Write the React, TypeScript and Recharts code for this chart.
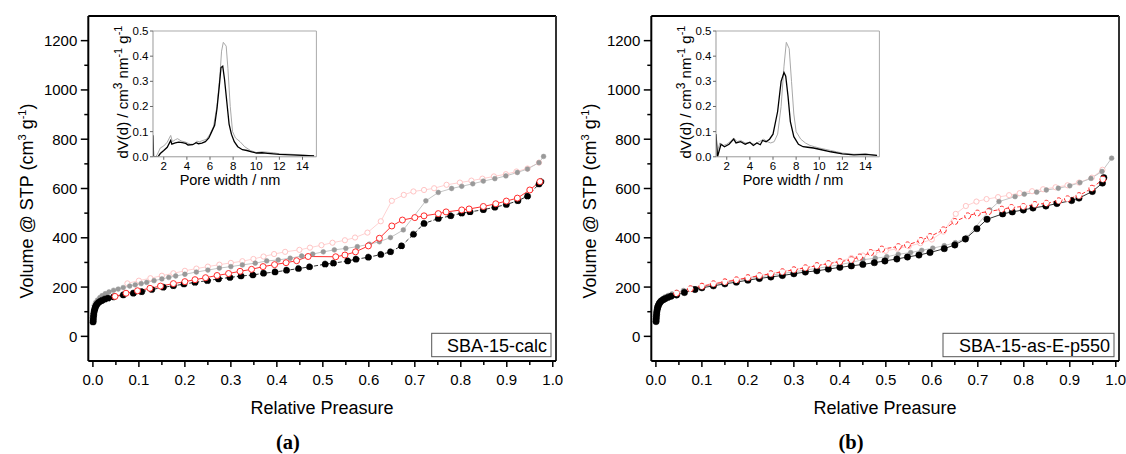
import React from 'react';
import { LineChart, Line, XAxis, YAxis, ReferenceLine } from 'recharts';

type Pt = [number, number];

// ---- main isotherm axes ----
const xTicks = [0, 0.05, 0.1, 0.15, 0.2, 0.25, 0.3, 0.35, 0.4, 0.45, 0.5, 0.55, 0.6, 0.65, 0.7, 0.75, 0.8, 0.85, 0.9, 0.95, 1.0];
const yTicks = [0, 100, 200, 300, 400, 500, 600, 700, 800, 900, 1000, 1100, 1200];
const xDomain: [number, number] = [-0.01, 1.007];
const yDomain: [number, number] = [-100, 1300];

// ---- inset axes ----
const insetXTicks = [2, 4, 6, 8, 10, 12, 14];
const insetYTicks = [0, 0.1, 0.2, 0.3, 0.4, 0.5];
const insetXDomain: [number, number] = [1.07, 15.2];
const insetYDomain: [number, number] = [0, 0.5];

const panelLabels = ['(a)', '(b)'];
const sampleNames = ['SBA-15-calc', 'SBA-15-as-E-p550'];

// ---- panel (a): SBA-15-calc ----
const calcAds: Pt[] = [
  [0.0003, 58], [0.0006, 66], [0.001, 76], [0.0015, 86], [0.002, 95], [0.003, 104], [0.004, 111], [0.005, 117],
  [0.007, 125], [0.009, 131], [0.012, 137], [0.016, 142], [0.02, 146], [0.026, 151], [0.033, 155], [0.045, 160],
  [0.066, 168], [0.088, 175], [0.106, 181], [0.128, 190], [0.153, 199], [0.175, 205], [0.198, 212], [0.222, 219],
  [0.249, 226], [0.273, 233], [0.298, 239], [0.322, 245], [0.348, 249], [0.371, 256], [0.396, 261], [0.421, 268],
  [0.447, 275], [0.471, 282], [0.505, 293], [0.523, 297], [0.554, 306], [0.572, 313], [0.599, 321], [0.626, 332],
  [0.647, 343], [0.671, 367], [0.697, 414], [0.72, 458], [0.751, 478], [0.778, 489], [0.802, 500], [0.82, 505],
  [0.849, 514], [0.874, 524], [0.899, 535], [0.924, 550], [0.945, 569], [0.97, 618], [0.974, 628],
];
const calcDes: Pt[] = [
  [0.048, 162], [0.072, 175], [0.097, 185], [0.124, 195], [0.147, 204], [0.175, 214], [0.2, 222], [0.222, 230],
  [0.245, 238], [0.27, 247], [0.295, 255], [0.32, 264], [0.345, 272], [0.37, 283], [0.395, 291], [0.42, 299],
  [0.443, 307], [0.468, 324], [0.528, 323], [0.548, 330], [0.571, 343], [0.599, 367], [0.623, 398], [0.65, 448],
  [0.673, 472], [0.7, 482], [0.72, 489], [0.751, 498], [0.768, 505], [0.802, 513], [0.818, 517], [0.849, 527],
  [0.876, 538], [0.899, 549], [0.923, 561], [0.95, 594], [0.972, 628],
];
const calcRefAds: Pt[] = [
  [0.003, 125], [0.006, 137], [0.01, 147], [0.015, 157], [0.02, 165], [0.027, 173], [0.035, 180], [0.045, 187],
  [0.055, 192], [0.066, 198], [0.08, 204], [0.092, 209], [0.105, 214], [0.117, 219], [0.133, 226], [0.15, 233],
  [0.165, 239], [0.18, 245], [0.2, 252], [0.225, 261], [0.25, 269], [0.275, 277], [0.3, 283], [0.325, 290],
  [0.353, 297], [0.378, 306], [0.403, 310], [0.429, 317], [0.454, 326], [0.478, 334], [0.501, 343], [0.525, 351],
  [0.55, 357], [0.575, 364], [0.601, 374], [0.623, 384], [0.647, 401], [0.675, 432], [0.724, 550], [0.751, 584],
  [0.78, 600], [0.802, 609], [0.826, 619], [0.849, 630], [0.874, 640], [0.898, 651], [0.923, 665], [0.945, 679],
  [0.97, 705], [0.98, 730],
];
const calcRefDes: Pt[] = [
  [0.075, 215], [0.1, 226], [0.125, 236], [0.15, 246], [0.175, 256], [0.2, 266], [0.225, 275], [0.25, 283],
  [0.275, 291], [0.3, 298], [0.325, 305], [0.349, 314], [0.371, 324], [0.394, 334], [0.418, 343], [0.449, 351],
  [0.472, 360], [0.497, 370], [0.521, 380], [0.548, 390], [0.57, 401], [0.597, 421], [0.626, 467], [0.65, 550],
  [0.676, 574], [0.697, 588], [0.72, 594], [0.742, 601], [0.769, 615], [0.798, 624], [0.823, 632], [0.847, 640],
  [0.872, 649], [0.898, 658], [0.921, 669], [0.945, 681], [0.97, 705],
];
const calcPsd: Pt[] = [
  [1.07, 0.086], [1.12, 0], [1.5, 0], [1.7, 0.013], [2.0, 0.025], [2.3, 0.038], [2.6, 0.065], [2.7, 0.05],
  [3.0, 0.055], [3.3, 0.058], [3.6, 0.056], [3.9, 0.053], [4.1, 0.047], [4.5, 0.048], [4.8, 0.056], [5.0, 0.052],
  [5.3, 0.054], [5.6, 0.06], [5.9, 0.075], [6.1, 0.095], [6.4, 0.125], [6.6, 0.19], [6.8, 0.28], [6.95, 0.355],
  [7.1, 0.36], [7.25, 0.31], [7.45, 0.22], [7.65, 0.13], [7.85, 0.09], [8.1, 0.06], [8.4, 0.04], [8.8, 0.028],
  [9.2, 0.025], [9.6, 0.02], [10.0, 0.015], [10.5, 0.016], [11.0, 0.014], [12.0, 0.01], [13.0, 0.008], [14.0, 0.006],
  [15.0, 0.004],
];
const calcRefPsd: Pt[] = [
  [1.07, 0], [1.3, 0], [1.45, 0.01], [1.7, 0.035], [2.0, 0.043], [2.3, 0.058], [2.6, 0.085], [2.75, 0.06],
  [3.0, 0.068], [3.2, 0.072], [3.5, 0.063], [3.9, 0.058], [4.3, 0.05], [4.6, 0.05], [4.85, 0.062], [5.1, 0.06],
  [5.4, 0.065], [5.7, 0.07], [6.0, 0.09], [6.3, 0.12], [6.6, 0.2], [6.85, 0.32], [7.0, 0.42], [7.15, 0.455],
  [7.4, 0.44], [7.55, 0.35], [7.75, 0.2], [7.95, 0.1], [8.2, 0.075], [8.6, 0.06], [9.0, 0.04], [9.5, 0.025],
  [10.0, 0.017], [10.5, 0.02], [11.0, 0.018], [11.5, 0.016], [12.0, 0.012], [13.0, 0.01], [14.0, 0.007], [15.0, 0.004],
];

// ---- panel (b): SBA-15-as-E-p550 ----
const p550Ads: Pt[] = [
  [0.0003, 60], [0.0006, 70], [0.001, 80], [0.0015, 90], [0.002, 100], [0.003, 110], [0.004, 118], [0.005, 124],
  [0.007, 132], [0.009, 138], [0.012, 144], [0.016, 149], [0.02, 153], [0.026, 158], [0.033, 163], [0.045, 168],
  [0.062, 178], [0.085, 190], [0.1, 197], [0.125, 205], [0.15, 213], [0.175, 220], [0.2, 228], [0.225, 235],
  [0.25, 241], [0.275, 247], [0.3, 254], [0.325, 261], [0.35, 266], [0.375, 273], [0.4, 280], [0.425, 286],
  [0.45, 292], [0.475, 299], [0.498, 306], [0.524, 314], [0.547, 322], [0.572, 330], [0.596, 340], [0.627, 356],
  [0.65, 371], [0.673, 395], [0.698, 437], [0.72, 475], [0.754, 497], [0.775, 505], [0.799, 513], [0.82, 521],
  [0.848, 529], [0.872, 539], [0.904, 551], [0.92, 561], [0.949, 588], [0.971, 622], [0.974, 644],
];
const p550Des: Pt[] = [
  [0.045, 175], [0.075, 193], [0.1, 203], [0.125, 213], [0.15, 221], [0.175, 229], [0.2, 238], [0.225, 246],
  [0.25, 254], [0.275, 262], [0.3, 270], [0.325, 278], [0.35, 287], [0.375, 295], [0.4, 303], [0.425, 311],
  [0.443, 322], [0.467, 340], [0.491, 354], [0.527, 364], [0.547, 371], [0.576, 389], [0.596, 405], [0.625, 432],
  [0.65, 466], [0.678, 489], [0.699, 500], [0.723, 506], [0.752, 516], [0.773, 523], [0.799, 527], [0.824, 535],
  [0.849, 540], [0.876, 550], [0.895, 558], [0.92, 571], [0.948, 601], [0.972, 638],
];
const p550RefAds: Pt[] = [
  [0.003, 120], [0.006, 135], [0.01, 145], [0.015, 153], [0.02, 160], [0.027, 166], [0.035, 172], [0.045, 178],
  [0.06, 186], [0.08, 194], [0.1, 201], [0.125, 210], [0.15, 218], [0.175, 226], [0.2, 234], [0.225, 241],
  [0.25, 248], [0.275, 255], [0.3, 262], [0.325, 269], [0.35, 276], [0.375, 283], [0.4, 291], [0.425, 300],
  [0.45, 311], [0.477, 317], [0.502, 323], [0.527, 333], [0.554, 340], [0.578, 349], [0.602, 358], [0.627, 368],
  [0.651, 380], [0.676, 401], [0.726, 513], [0.746, 547], [0.781, 567], [0.801, 577], [0.828, 585], [0.849, 594],
  [0.875, 601], [0.9, 611], [0.922, 624], [0.946, 641], [0.97, 669], [0.991, 723],
];
const p550RefDes: Pt[] = [
  [0.075, 195], [0.1, 206], [0.125, 215], [0.15, 223], [0.175, 231], [0.2, 239], [0.225, 247], [0.25, 255],
  [0.275, 263], [0.3, 271], [0.325, 279], [0.35, 287], [0.375, 296], [0.4, 306], [0.425, 318], [0.45, 328],
  [0.475, 338], [0.5, 347], [0.525, 356], [0.55, 366], [0.575, 378], [0.6, 393], [0.625, 425], [0.652, 497],
  [0.674, 529], [0.697, 547], [0.719, 557], [0.744, 565], [0.768, 573], [0.791, 581], [0.818, 589], [0.842, 597],
  [0.869, 605], [0.895, 613], [0.92, 624], [0.948, 644], [0.971, 676],
];
const p550Psd: Pt[] = [
  [1.07, 0.09], [1.2, 0], [1.5, 0.05], [1.8, 0.04], [2.2, 0.05], [2.6, 0.07], [2.8, 0.055], [3.2, 0.06],
  [3.6, 0.05], [4.0, 0.058], [4.3, 0.045], [4.6, 0.055], [4.9, 0.048], [5.1, 0.065], [5.4, 0.06], [5.7, 0.07],
  [6.0, 0.09], [6.4, 0.18], [6.7, 0.3], [6.95, 0.335], [7.1, 0.32], [7.3, 0.24], [7.5, 0.14], [7.8, 0.08],
  [8.2, 0.05], [8.6, 0.04], [9.0, 0.038], [9.5, 0.035], [10.0, 0.03], [11.0, 0.02], [12.0, 0.012], [13.0, 0.008],
  [14.0, 0.01], [15.0, 0.006],
];
const p550RefPsd: Pt[] = [
  [1.07, 0], [1.4, 0.055], [1.7, 0.045], [2.0, 0.05], [2.3, 0.06], [2.6, 0.075], [2.9, 0.06], [3.2, 0.065],
  [3.6, 0.055], [4.0, 0.055], [4.4, 0.05], [4.8, 0.06], [5.2, 0.07], [5.5, 0.06], [5.8, 0.055], [6.1, 0.06],
  [6.4, 0.09], [6.7, 0.2], [6.95, 0.36], [7.15, 0.455], [7.4, 0.43], [7.6, 0.3], [7.8, 0.17], [8.0, 0.1],
  [8.4, 0.07], [8.8, 0.055], [9.2, 0.045], [9.6, 0.04], [10.0, 0.035], [10.5, 0.03], [11.0, 0.025], [11.5, 0.02],
  [12.0, 0.015], [13.0, 0.01], [14.0, 0.012], [15.0, 0.005],
];

const SANS = "'Liberation Sans', Arial, sans-serif";
const SERIF = "'Liberation Serif', 'Times New Roman', serif";

const toRows = (pts: Pt[]) => pts.map(([x, y]) => ({ x, y }));

const MainXTick = (props: any) => {
  const { x, y, payload } = props;
  const v = payload.value as number;
  const major = Math.round(v * 100) % 10 === 0;
  return (
    <g>
      <line x1={x} x2={x} y1={y} y2={y + (major ? 6 : 4)} stroke="#000" strokeWidth={1.5} />
      {major && (
        <text x={x} y={y + 24} textAnchor="middle" fontSize={15} fontFamily={SANS} fill="#000">
          {v.toFixed(1)}
        </text>
      )}
    </g>
  );
};

const MainYTick = (props: any) => {
  const { x, y, payload } = props;
  const v = payload.value as number;
  const major = v % 200 === 0;
  return (
    <g>
      <line x1={x} x2={x - (major ? 7.5 : 4)} y1={y} y2={y} stroke="#000" strokeWidth={1.5} />
      {major && (
        <text x={x - 11} y={y + 5.5} textAnchor="end" fontSize={15} fontFamily={SANS} fill="#000">
          {v}
        </text>
      )}
    </g>
  );
};

const InsetXTick = (props: any) => {
  const { x, y, payload } = props;
  return (
    <g>
      <line x1={x} x2={x} y1={y} y2={y + 3} stroke="#666" strokeWidth={1} />
      <text x={x} y={y + 13.5} textAnchor="middle" fontSize={11.5} fontFamily={SANS} fill="#000">
        {payload.value}
      </text>
    </g>
  );
};

const InsetYTick = (props: any) => {
  const { x, y, payload } = props;
  return (
    <g>
      <line x1={x} x2={x - 3} y1={y} y2={y} stroke="#666" strokeWidth={1} />
      <text x={x - 4.5} y={y + 4} textAnchor="end" fontSize={11.5} fontFamily={SANS} fill="#000">
        {(payload.value as number).toFixed(1)}
      </text>
    </g>
  );
};

type SeriesSet = { ads: Pt[]; des: Pt[]; refAds: Pt[]; refDes: Pt[]; psd: Pt[]; refPsd: Pt[] };

function Panel({ idx, set, boxLeft, blackDash, redDash }: { idx: number; set: SeriesSet; boxLeft: number; blackDash?: string; redDash?: string }) {
  return (
    <div style={{ position: 'absolute', left: idx * 563, top: 0, width: 563, height: 454 }}>
      <div style={{ position: 'absolute', left: 0, top: 0 }}>
        <LineChart width={563} height={454} margin={{ top: 16, right: 7, left: 28.3, bottom: 63 }}>
          <XAxis
            type="number"
            dataKey="x"
            domain={xDomain}
            ticks={xTicks}
            allowDataOverflow
            height={30}
            tickSize={0}
            tickMargin={0}
            tickLine={false}
            interval={0}
            axisLine={{ stroke: '#000', strokeWidth: 2 }}
            tick={(p: any) => <MainXTick {...p} />}
          />
          <YAxis
            type="number"
            domain={yDomain}
            ticks={yTicks}
            allowDataOverflow
            width={60}
            tickSize={0}
            tickMargin={0}
            tickLine={false}
            interval={0}
            axisLine={{ stroke: '#000', strokeWidth: 2 }}
            tick={(p: any) => <MainYTick {...p} />}
          />
          <ReferenceLine y={yDomain[1]} stroke="#000" strokeWidth={2} />
          <ReferenceLine x={xDomain[1]} stroke="#333" strokeWidth={2} />
          <Line
            data={toRows(set.refDes)}
            dataKey="y"
            type="linear"
            stroke="#ffd2d2"
            strokeWidth={1}
            dot={{ r: 2.6, fill: '#fff', stroke: '#ffc4c4', strokeWidth: 1 }}
            isAnimationActive={false}
          />
          <Line
            data={toRows(set.refAds)}
            dataKey="y"
            type="linear"
            stroke="#c4c4c4"
            strokeWidth={1}
            dot={{ r: 2.4, fill: '#999', stroke: '#999', strokeWidth: 0.5 }}
            isAnimationActive={false}
          />
          <Line
            data={toRows(set.ads)}
            dataKey="y"
            type="linear"
            stroke="#333"
            strokeWidth={1}
            strokeDasharray={blackDash}
            dot={{ r: 3.2, fill: '#000', stroke: '#000', strokeWidth: 0.5 }}
            isAnimationActive={false}
          />
          <Line
            data={toRows(set.des)}
            dataKey="y"
            type="linear"
            stroke="#ff3030"
            strokeWidth={1}
            strokeDasharray={redDash}
            dot={{ r: 3, fill: '#fff', stroke: '#ff2a2a', strokeWidth: 1 }}
            isAnimationActive={false}
          />
        </LineChart>
      </div>

      <div style={{ position: 'absolute', left: 123.3, top: 22.7 }}>
        <LineChart width={199.4} height={155.8} margin={{ top: 8, right: 6, left: 0, bottom: 0 }}>
          <XAxis
            type="number"
            dataKey="x"
            domain={insetXDomain}
            ticks={insetXTicks}
            allowDataOverflow
            height={22}
            tickSize={0}
            tickMargin={0}
            tickLine={false}
            interval={0}
            axisLine={{ stroke: '#999', strokeWidth: 1 }}
            tick={(p: any) => <InsetXTick {...p} />}
          />
          <YAxis
            type="number"
            domain={insetYDomain}
            ticks={insetYTicks}
            allowDataOverflow
            width={30}
            tickSize={0}
            tickMargin={0}
            tickLine={false}
            interval={0}
            axisLine={{ stroke: '#999', strokeWidth: 1 }}
            tick={(p: any) => <InsetYTick {...p} />}
          />
          <ReferenceLine y={insetYDomain[1]} stroke="#aaa" strokeWidth={1} />
          <ReferenceLine x={insetXDomain[1]} stroke="#aaa" strokeWidth={1} />
          <Line data={toRows(set.refPsd)} dataKey="y" type="linear" stroke="#a8a8a8" strokeWidth={1} dot={false} isAnimationActive={false} />
          <Line data={toRows(set.psd)} dataKey="y" type="linear" stroke="#000" strokeWidth={1.3} dot={false} isAnimationActive={false} />
        </LineChart>
      </div>

      <svg width={563} height={454} style={{ position: 'absolute', left: 0, top: 0, pointerEvents: 'none' }}>
        <text transform="translate(33,201) rotate(-90)" textAnchor="middle" fontSize={18} fontFamily={SANS} fill="#000">
          Volume @ STP (cm<tspan dy={-7} fontSize={11}>3</tspan>
          <tspan dy={7}> g</tspan>
          <tspan dy={-7} fontSize={11}>-1</tspan>
          <tspan dy={7}>)</tspan>
        </text>
        <text x={322} y={414} textAnchor="middle" fontSize={18} fontFamily={SANS} fill="#000">
          Relative Preasure
        </text>
        <text x={288} y={449} textAnchor="middle" fontSize={20.5} fontWeight="bold" fontFamily={SERIF} fill="#000">
          {panelLabels[idx]}
        </text>
        <rect x={boxLeft} y={333.3} width={551 - boxLeft} height={23.4} fill="#fff" stroke="#555" strokeWidth={1} />
        <text x={547} y={352} textAnchor="end" fontSize={18} fontFamily={SANS} fill="#000">
          {sampleNames[idx]}
        </text>
        <text x={230} y={185} textAnchor="middle" fontSize={14.5} fontFamily={SANS} fill="#000">
          Pore width / nm
        </text>
        <text transform="translate(128,92) rotate(-90)" textAnchor="middle" fontSize={15} fontFamily={SANS} fill="#000">
          dV(d) / cm<tspan dy={-6} fontSize={12}>3</tspan>
          <tspan dy={6}> nm</tspan>
          <tspan dy={-6} fontSize={11}>-1</tspan>
          <tspan dy={6}> g</tspan>
          <tspan dy={-6} fontSize={11}>-1</tspan>
        </text>
      </svg>
    </div>
  );
}

export default function App() {
  const calc: SeriesSet = { ads: calcAds, des: calcDes, refAds: calcRefAds, refDes: calcRefDes, psd: calcPsd, refPsd: calcRefPsd };
  const p550: SeriesSet = { ads: p550Ads, des: p550Des, refAds: p550RefAds, refDes: p550RefDes, psd: p550Psd, refPsd: p550RefPsd };
  return (
    <div style={{ position: 'absolute', left: 0, top: 0, width: 1126, height: 454, background: '#fff', overflow: 'hidden' }}>
      <Panel idx={0} set={calc} boxLeft={431.7} blackDash="4 2" />
      <Panel idx={1} set={p550} boxLeft={380} redDash="4 2" />
    </div>
  );
}
